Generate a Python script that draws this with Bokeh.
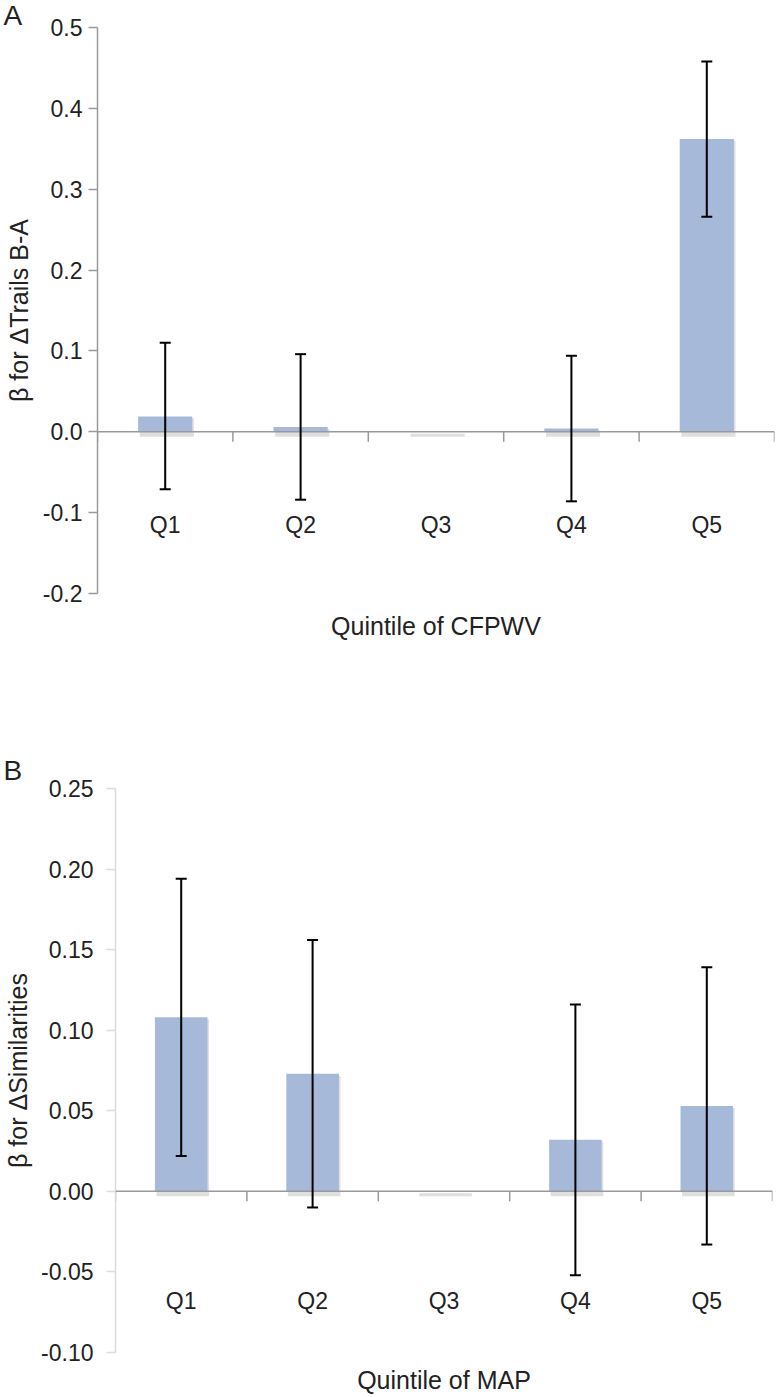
import numpy as np
from bokeh.plotting import figure
from bokeh.models import (Range1d, FixedTicker, NumeralTickFormatter, Whisker, TeeHead,
                          ColumnDataSource, Span)
from bokeh.layouts import column, row
from bokeh.core.properties import value
from bokeh.embed import file_html
from bokeh.resources import INLINE

# ---------------- data ----------------
categories = ["Q1", "Q2", "Q3", "Q4", "Q5"]

a_beta = [0.019, 0.006, 0.0, 0.004, 0.362]
a_lower = [-0.071, -0.084, None, -0.086, 0.266]
a_upper = [0.110, 0.096, None, 0.094, 0.458]
a_ticks = [-0.2, -0.1, 0.0, 0.1, 0.2, 0.3, 0.4, 0.5]

b_beta = [0.108, 0.073, 0.0, 0.032, 0.053]
b_lower = [0.022, -0.010, None, -0.052, -0.033]
b_upper = [0.194, 0.156, None, 0.116, 0.139]
b_ticks = [-0.10, -0.05, 0.00, 0.05, 0.10, 0.15, 0.20, 0.25]

FONT = "Liberation Sans"
TXT = "#222222"
BAR = "#A6B9D8"


def panel(letter, beta, lower, upper, ticks, fmt, ylabel, xlabel,
          width, height, b_left, b_right, b_top, b_bottom, ylabel_standoff, xlabel_standoff,
          tick_standoff, yaxis_color, qlabel_px, title_standoff):
    ymin, ymax = ticks[0], ticks[-1]
    p = figure(width=width, height=height, output_backend="svg", toolbar_location=None,
               x_range=Range1d(0, len(categories)), y_range=Range1d(ymin, ymax),
               min_border_left=b_left, min_border_right=b_right, min_border_top=b_top,
               min_border_bottom=b_bottom, title=letter)
    p.outline_line_color = None
    p.grid.grid_line_color = None
    p.background_fill_color = "white"

    # panel letter as title, pushed to the left edge
    p.title.align = "left"
    p.title.offset = 3 - b_left
    p.title.standoff = title_standoff
    p.title.text_font = FONT
    p.title.text_font_size = "28px"
    p.title.text_font_style = "normal"
    p.title.text_color = TXT

    frame_h = height - b_top - b_bottom
    px = (ymax - ymin) / frame_h  # data units per pixel

    xs = np.arange(len(categories)) + 0.5

    # bar shadow + bars
    p.vbar(x=xs + 0.012, top=np.array(beta) - 2 * px, bottom=-5 * px, width=0.4,
           fill_color="#808080", fill_alpha=0.25, line_color=None)
    p.vbar(x=xs, top=beta, bottom=0, width=0.4, fill_color=BAR, line_color=None)

    # zero axis line
    p.add_layout(Span(location=0, dimension="width", line_color="#9a9a9a", line_width=1.5))

    # category boundary ticks
    bounds = np.arange(len(categories) + 1)
    p.segment(x0=bounds, x1=bounds, y0=[0] * len(bounds), y1=[-10 * px] * len(bounds),
              line_color="#9a9a9a", line_width=1.5)

    # category labels
    p.text(x=xs, y=[-qlabel_px * px] * len(xs), text=categories,
           text_font=value(FONT), text_font_size="23px", text_color=TXT,
           text_align="center", text_baseline="middle")

    # error bars
    idx = [i for i in range(len(categories)) if lower[i] is not None]
    src = ColumnDataSource(dict(x=[xs[i] for i in idx],
                                lower=[lower[i] for i in idx],
                                upper=[upper[i] for i in idx]))
    w = Whisker(source=src, base="x", lower="lower", upper="upper", dimension="height",
                line_color="black", line_width=2,
                upper_head=TeeHead(size=11, line_color="black", line_width=2),
                lower_head=TeeHead(size=11, line_color="black", line_width=2),
                level="overlay")
    p.add_layout(w)

    # y axis
    ya = p.yaxis[0]
    ya.ticker = FixedTicker(ticks=ticks)
    ya.formatter = NumeralTickFormatter(format=fmt)
    ya.axis_line_color = yaxis_color
    ya.axis_line_width = 1.5
    ya.major_tick_line_color = yaxis_color
    ya.major_tick_line_width = 1.5
    ya.major_tick_out = 9
    ya.major_tick_in = 0
    ya.minor_tick_line_color = None
    ya.major_label_text_font = FONT
    ya.major_label_text_font_size = "23px"
    ya.major_label_text_color = TXT
    ya.major_label_standoff = tick_standoff
    ya.axis_label = ylabel
    ya.axis_label_text_font = FONT
    ya.axis_label_text_font_size = "25px"
    ya.axis_label_text_font_style = "normal"
    ya.axis_label_text_color = TXT
    ya.axis_label_standoff = ylabel_standoff

    # x axis: only the title
    xa = p.xaxis[0]
    xa.ticker = FixedTicker(ticks=[])
    xa.axis_line_color = None
    xa.major_tick_line_color = None
    xa.minor_tick_line_color = None
    xa.major_tick_out = 0
    xa.major_label_standoff = 0
    xa.major_label_text_font_size = "0px"
    xa.axis_label = xlabel
    xa.axis_label_text_font = FONT
    xa.axis_label_text_font_size = "25px"
    xa.axis_label_text_font_style = "normal"
    xa.axis_label_text_color = TXT
    xa.axis_label_standoff = xlabel_standoff
    return p


pa = panel("A", a_beta, a_lower, a_upper, a_ticks, "0.0", "β for ΔTrails B-A",
           "Quintile of CFPWV", width=776, height=700, b_left=97, b_right=2, b_top=27,
           b_bottom=107, ylabel_standoff=7, xlabel_standoff=18, tick_standoff=6,
           yaxis_color="#9a9a9a", qlabel_px=93, title_standoff=-6)

pb = panel("B", b_beta, b_lower, b_upper, b_ticks, "0.00", "β for ΔSimilarities",
           "Quintile of MAP", width=776, height=696, b_left=115, b_right=4, b_top=88,
           b_bottom=42, ylabel_standoff=6, xlabel_standoff=13, tick_standoff=13,
           yaxis_color="#dcdcdc", qlabel_px=110, title_standoff=5)

layout = column(row(pa), row(pb), spacing=0)
open("out.html", "w").write(file_html(layout, INLINE))
